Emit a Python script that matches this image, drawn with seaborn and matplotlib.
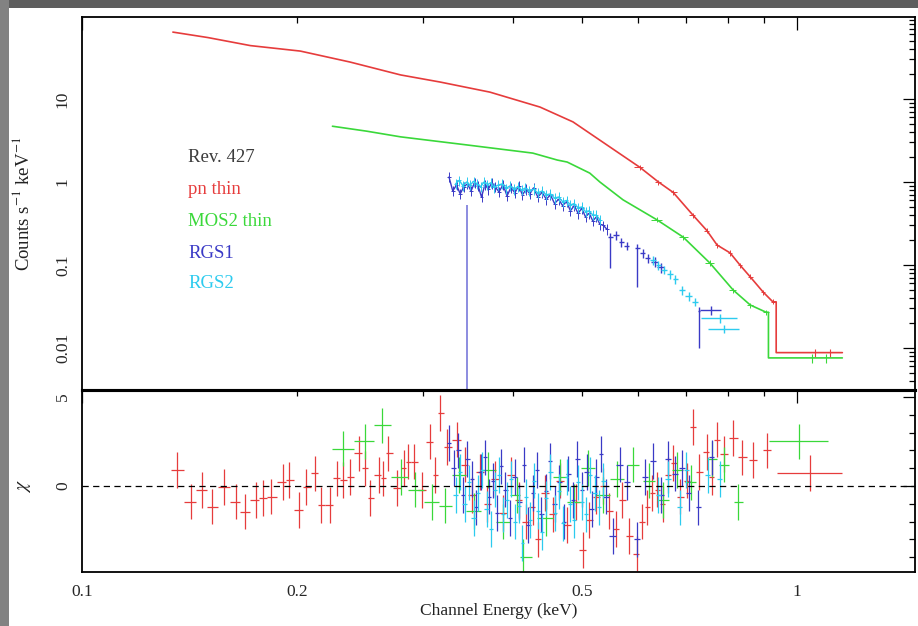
import numpy as np
import matplotlib
matplotlib.use("Agg")
import matplotlib.pyplot as plt
import seaborn as sns
from matplotlib.patches import Rectangle
from matplotlib.ticker import FixedLocator, LogLocator, FuncFormatter, NullFormatter, MultipleLocator

# ---------------- spectra (counts s^-1 keV^-1) ----------------
# EPIC pn, thin filter
pn_e = [0.134, 0.150, 0.172, 0.202, 0.237, 0.279, 0.317, 0.372, 0.437, 0.486, 0.542,
        0.603, 0.640, 0.671, 0.715, 0.748, 0.773, 0.806, 0.832, 0.860, 0.897, 0.925]
pn_c = [64, 55, 44, 37.8, 27.9, 19.5, 16.0, 12.1, 8.0, 5.3, 2.8,
        1.5, 1.0, 0.75, 0.40, 0.26, 0.174, 0.14, 0.10, 0.072, 0.047, 0.036]
pn_last = (0.935, 1.157, 0.0088)          # final wide bin: low edge, high edge, rate

# EPIC MOS2, thin filter
mos_e = [0.224, 0.250, 0.279, 0.345, 0.427, 0.462, 0.477, 0.513, 0.530, 0.571,
         0.637, 0.693, 0.755, 0.814, 0.860, 0.905]
mos_c = [4.7, 4.1, 3.5, 2.8, 2.23, 1.84, 1.74, 1.28, 1.0, 0.61,
         0.35, 0.217, 0.106, 0.050, 0.033, 0.027]
mos_last = (0.912, 1.157, 0.0076)

# RGS1, densely binned part
rgs1_e = [0.326, 0.330, 0.334, 0.338, 0.342, 0.346, 0.350, 0.354, 0.358, 0.362,
          0.366, 0.370, 0.374, 0.378, 0.383, 0.388, 0.393, 0.398, 0.403, 0.408,
          0.413, 0.418, 0.423, 0.428, 0.434, 0.440, 0.446, 0.452, 0.458, 0.464,
          0.470, 0.476, 0.482, 0.488, 0.494, 0.500, 0.506, 0.512, 0.518, 0.524,
          0.530, 0.536, 0.542]
rgs1_c = [1.15, 0.78, 0.92, 0.72, 0.88, 0.95, 0.78, 0.98, 0.90, 0.66,
          0.93, 0.82, 0.97, 0.88, 0.76, 0.93, 0.68, 0.86, 0.74, 0.90,
          0.70, 0.82, 0.72, 0.85, 0.66, 0.75, 0.62, 0.70, 0.55, 0.62,
          0.52, 0.58, 0.45, 0.52, 0.42, 0.48, 0.38, 0.42, 0.34, 0.38,
          0.31, 0.30, 0.27]
# RGS1, grouped bins at higher energy
rgs1_sp_e = [0.548, 0.558, 0.568, 0.578, 0.598, 0.608, 0.618, 0.632, 0.645, 0.729, 0.757]
rgs1_sp_c = [0.22, 0.23, 0.19, 0.17, 0.16, 0.14, 0.12, 0.11, 0.095, 0.028, 0.029]
rgs1_sp_lo = [0.092, 0.20, 0.165, 0.15, 0.054, 0.12, 0.105, 0.095, 0.08, 0.010, 0.025]
rgs1_sp_hw = [0.004, 0.005, 0.005, 0.005, 0.005, 0.005, 0.005, 0.007, 0.007, 0.003, 0.025]
# RGS1 bin with an unconstrained lower bound
rgs1_gap = (0.3456, 0.53)

# RGS2, densely binned part
rgs2_e = [0.333, 0.337, 0.341, 0.345, 0.349, 0.353, 0.357, 0.361, 0.365, 0.369,
          0.373, 0.377, 0.382, 0.387, 0.392, 0.397, 0.402, 0.407, 0.412, 0.417,
          0.422, 0.428, 0.434, 0.440, 0.446, 0.452, 0.458, 0.464, 0.470, 0.476,
          0.482, 0.488, 0.494, 0.500, 0.506, 0.512, 0.518, 0.524, 0.530]
rgs2_c = [0.95, 1.05, 0.90, 1.00, 0.92, 1.02, 0.95, 0.88, 1.00, 0.93,
          0.98, 0.86, 0.92, 0.95, 0.84, 0.90, 0.82, 0.88, 0.80, 0.85,
          0.78, 0.82, 0.74, 0.78, 0.70, 0.72, 0.64, 0.66, 0.58, 0.60,
          0.53, 0.55, 0.49, 0.50, 0.44, 0.45, 0.40, 0.40, 0.35]
rgs2_sp_e = [0.628, 0.640, 0.652, 0.664, 0.676, 0.690, 0.705, 0.720, 0.780, 0.790]
rgs2_sp_c = [0.115, 0.10, 0.088, 0.078, 0.068, 0.050, 0.042, 0.036, 0.023, 0.017]
rgs2_sp_hw = [0.006, 0.006, 0.006, 0.006, 0.006, 0.007, 0.008, 0.008, 0.045, 0.040]

# ---------------- residuals (chi) ----------------
res_pn_e = [0.136, 0.142, 0.147, 0.152, 0.158, 0.164, 0.169, 0.175, 0.179, 0.184,
            0.191, 0.195, 0.201, 0.206, 0.212, 0.216, 0.222, 0.227, 0.232, 0.237,
            0.244, 0.249, 0.253, 0.260, 0.264, 0.268, 0.276, 0.282, 0.286, 0.291,
            0.299, 0.307, 0.312, 0.317, 0.324, 0.335, 0.343, 0.351, 0.360, 0.369,
            0.378, 0.388, 0.398, 0.408, 0.418, 0.427, 0.434, 0.444, 0.455, 0.466,
            0.477, 0.490, 0.502, 0.512, 0.524, 0.535, 0.546, 0.558, 0.570, 0.583,
            0.597, 0.607, 0.617, 0.627, 0.637, 0.649, 0.660, 0.671, 0.686, 0.702,
            0.715, 0.730, 0.748, 0.760, 0.773, 0.790, 0.814, 0.838, 0.868, 0.908]
res_pn_x = [0.9, -0.88, -0.22, -1.16, -0.04, -0.88, -1.44, -0.79, -0.69, -0.60,
            0.24, 0.34, -1.35, -0.04, 0.71, -1.07, -1.07, 0.43, 0.34, 0.52,
            1.83, 0.99, -0.69, 0.62, 0.43, 1.83, -0.13, 1.00, 1.37, 1.37,
            -0.22, 2.49, 0.62, 4.1, 2.2, 2.6, 1.2, -0.5, 0.8, -1.0,
            0.4, -1.5, 0.6, -0.8, -2.0, -1.2, -3.0, -0.4, -1.6, 0.3,
            -2.2, -0.9, -3.6, -1.9, -0.6, 0.0, -1.4, -2.4, -0.8, -2.8,
            -3.8, -2.0, -1.2, -0.4, -0.2, -1.0, 0.6, 1.3, -0.6, 0.3,
            3.3, 0.8, 1.9, 0.5, 2.6, 1.8, 2.7, 1.6, 1.45, 2.0]
res_pn_last = (0.938, 1.157, 0.73)

res_mos_e = [0.232, 0.249, 0.263, 0.279, 0.292, 0.309, 0.322, 0.337, 0.353, 0.370,
             0.388, 0.406, 0.414, 0.445, 0.466, 0.488, 0.510, 0.535, 0.560, 0.590,
             0.620, 0.650, 0.680, 0.710, 0.760, 0.790, 0.827]
res_mos_x = [2.1, 2.5, 3.4, 0.5, -0.2, -0.9, -1.1, 0.6, -1.4, 0.9,
             -2.0, -0.5, -4.0, -1.8, 0.5, -0.9, 1.0, -0.5, 0.4, 1.2,
             0.3, -0.8, 0.9, 0.2, 1.5, 1.2, -0.9]
res_mos_last = (0.915, 1.106, 2.5)

res_r1_e = [0.326, 0.331, 0.336, 0.341, 0.346, 0.351, 0.356, 0.361, 0.366, 0.371,
            0.376, 0.381, 0.386, 0.391, 0.397, 0.403, 0.409, 0.415, 0.421, 0.427,
            0.433, 0.439, 0.445, 0.451, 0.458, 0.465, 0.472, 0.479, 0.486, 0.493,
            0.500, 0.508, 0.516, 0.524, 0.532, 0.540, 0.552, 0.565, 0.578, 0.597,
            0.612, 0.628, 0.645, 0.660, 0.675, 0.690, 0.705, 0.728, 0.760]
res_r1_x = [2.4, 1.0, 2.0, -0.5, 1.5, 0.4, -1.2, 0.8, 1.6, -0.6,
            0.3, -1.5, 1.1, -0.2, -1.8, 0.5, -0.9, 1.2, -2.2, -0.4,
            0.9, -1.6, -0.3, 1.4, -1.0, 0.2, -2.0, 0.7, -0.8, 1.5,
            -0.2, 0.8, -1.3, 0.5, 1.8, -0.6, -2.8, 1.2, 0.2, -3.0,
            0.5, 1.4, -0.5, 1.5, 0.7, 1.0, -0.4, -1.2, 1.6]

res_r2_e = [0.333, 0.338, 0.343, 0.348, 0.353, 0.358, 0.363, 0.368, 0.373, 0.378,
            0.383, 0.388, 0.393, 0.398, 0.403, 0.408, 0.413, 0.418, 0.423, 0.428,
            0.434, 0.440, 0.446, 0.452, 0.458, 0.464, 0.470, 0.476, 0.482, 0.488,
            0.494, 0.500, 0.507, 0.514, 0.521, 0.528, 0.535, 0.640, 0.660, 0.685,
            0.700, 0.750, 0.780]
res_r2_x = [-0.5, 0.8, -1.0, 0.2, -1.8, -0.4, 0.9, -1.3, -2.4, -0.2,
            0.6, -1.6, -0.8, 0.4, -2.0, -1.1, -3.2, -0.6, -1.9, 0.3,
            -1.4, -2.6, -0.7, 0.8, -1.5, -0.3, -2.1, 0.5, -1.0, -1.9,
            0.2, -0.9, -1.6, 0.6, -0.4, -1.2, 0.3, -0.5, 0.4, -1.2,
            0.9, 0.6, 0.4]

legend_labels = ["Rev. 427", "pn thin", "MOS2 thin", "RGS1", "RGS2"]
x_tick_labels = {0.1: "0.1", 0.2: "0.2", 0.5: "0.5", 1.0: "1"}

RED, GREEN, BLUE, CYAN = "#e63c3c", "#3ad83a", "#3a3ac6", "#2ccbef"


def half_widths(e, cap=None):
    """Half widths of contiguous bins centred on e (log spacing)."""
    e = np.asarray(e, float)
    mids = np.sqrt(e[1:] * e[:-1])
    lo = np.r_[e[0] ** 2 / mids[0], mids]
    hi = np.r_[mids, e[-1] ** 2 / mids[-1]]
    dl, dh = e - lo, hi - e
    if cap is not None:
        dl, dh = np.minimum(dl, cap), np.minimum(dh, cap)
    return np.vstack([dl, dh])


sns.set_theme(style="white")
plt.rcParams["font.family"] = ["Liberation Serif", "DejaVu Serif"]
plt.rcParams["mathtext.fontset"] = "stix"

W, H = 918, 626
fig = plt.figure(figsize=(W / 100, H / 100), dpi=100)
fig.patch.set_facecolor("white")
# dark outer frame along the top and left edges
fig.patches.append(Rectangle((0, 1 - 8 / H), 1, 8 / H, transform=fig.transFigure,
                             facecolor="#5e5e5e", edgecolor="none", zorder=-5))
fig.patches.append(Rectangle((0, 0), 9 / W, 1, transform=fig.transFigure,
                             facecolor="#828282", edgecolor="none", zorder=-5))

x0, x1 = 82 / W, 833 / W
ax = fig.add_axes([x0, 1 - 390 / H, x1, 373 / H])
axr = fig.add_axes([x0, 1 - 572 / H, x1, 182 / H], sharex=ax)

for a in (ax, axr):
    a.set_facecolor("none")
    a.set_xscale("log")
ax.set_yscale("log")

# ---------- upper panel ----------
def stepped_tail(e, c, last):
    lo, hi, val = last
    xs = list(e) + [lo, lo, hi]
    ys = list(c) + [c[-1], val, val]
    return xs, ys

for e, c, last, col in ((pn_e, pn_c, pn_last, RED), (mos_e, mos_c, mos_last, GREEN)):
    xs, ys = stepped_tail(e, c, last)
    sns.lineplot(x=xs, y=ys, ax=ax, color=col, lw=1.2, sort=False, estimator=None)
    e_arr, c_arr = np.asarray(e), np.asarray(c)
    sel = e_arr > 0.6
    hw = half_widths(e)[:, sel]
    ax.errorbar(e_arr[sel], c_arr[sel], xerr=hw * 0.35, yerr=c_arr[sel] * 0.07,
                fmt="none", ecolor=col, elinewidth=0.7, capsize=0)
    lo, hi, val = last
    ax.errorbar([np.sqrt(lo * hi) * 1.02, np.sqrt(lo * hi) * 1.07], [val, val],
                yerr=[val * 0.12, val * 0.12], fmt="none", ecolor=col, elinewidth=0.8)

# RGS dense spectra
for e, c, col in ((rgs1_e, rgs1_c, BLUE), (rgs2_e, rgs2_c, CYAN)):
    sns.lineplot(x=e, y=c, ax=ax, color=col, lw=1.0, sort=False, estimator=None)
    c_arr = np.asarray(c)
    ax.errorbar(e, c, xerr=half_widths(e), yerr=c_arr * 0.14, fmt="none",
                ecolor=col, elinewidth=0.7, capsize=0)

# RGS grouped bins
r1c = np.asarray(rgs1_sp_c)
ax.errorbar(rgs1_sp_e, rgs1_sp_c, xerr=rgs1_sp_hw,
            yerr=[r1c - np.asarray(rgs1_sp_lo), r1c * 0.12],
            fmt="none", ecolor=BLUE, elinewidth=1.0, capsize=0)
r2c = np.asarray(rgs2_sp_c)
ax.errorbar(rgs2_sp_e, rgs2_sp_c, xerr=rgs2_sp_hw, yerr=r2c * 0.12,
            fmt="none", ecolor=CYAN, elinewidth=1.0, capsize=0)
ax.errorbar([rgs1_gap[0]], [rgs1_gap[1]], yerr=[[rgs1_gap[1] - 1e-5], [0]],
            fmt="none", ecolor="#8c8ce0", elinewidth=1.4, capsize=0)

ax.set_xlim(0.1, 1.462)
ax.set_ylim(0.00312, 97.3)

# legend as coloured text
leg_cols = ["#3c3c3c", RED, GREEN, BLUE, CYAN]
leg_y = [157, 190, 221, 253, 284]
for lab, col, yy in zip(legend_labels, leg_cols, leg_y):
    ax.text((188 - 82) / 833, (390 - yy) / 373, lab, transform=ax.transAxes,
            color=col, fontsize=13.5, va="center", ha="left")

# ---------- residual panel ----------
def residuals(e, x, col, cap):
    axr.errorbar(e, x, xerr=half_widths(e, cap), yerr=1.0, fmt="none",
                 ecolor=col, elinewidth=0.9, capsize=0)

def wide_residual(last, col):
    lo, hi, val = last
    c = np.sqrt(lo * hi)
    axr.errorbar([c], [val], xerr=[[c - lo], [hi - c]], yerr=1.0, fmt="none",
                 ecolor=col, elinewidth=0.9, capsize=0)

residuals(res_pn_e, res_pn_x, RED, 0.012)
wide_residual(res_pn_last, RED)
residuals(res_mos_e, res_mos_x, GREEN, 0.012)
wide_residual(res_mos_last, GREEN)
residuals(res_r1_e, res_r1_x, BLUE, 0.006)
residuals(res_r2_e, res_r2_x, CYAN, 0.006)
axr.axhline(0, color="black", lw=0.9, ls=(0, (5, 3.5)), zorder=5)
axr.set_ylim(-4.83, 5.39)

# ---------- axes styling ----------
for a in (ax, axr):
    for s in a.spines.values():
        s.set_color("black")
        s.set_linewidth(1.3)
    a.tick_params(which="both", direction="in", top=True, right=True,
                  color="black", width=0.9)
    a.tick_params(which="major", length=9)
    a.tick_params(which="minor", length=4.5)
ax.spines["bottom"].set_linewidth(2.2)
axr.spines["top"].set_linewidth(2.2)

ax.xaxis.set_major_locator(FixedLocator([0.1, 1.0]))
ax.xaxis.set_minor_locator(LogLocator(base=10, subs=np.arange(2, 10)))
ax.tick_params(axis="x", which="both", labelbottom=False)

fmt = FuncFormatter(lambda v, p: next((t for k, t in x_tick_labels.items()
                                       if abs(v - k) < 1e-6), ""))
axr.xaxis.set_major_formatter(fmt)
axr.xaxis.set_minor_formatter(fmt)
axr.tick_params(axis="x", which="both", labelsize=12.5, pad=9)

ax.yaxis.set_major_locator(FixedLocator([0.01, 0.1, 1, 10]))
ax.yaxis.set_minor_locator(LogLocator(base=10, subs=np.arange(2, 10)))
ax.yaxis.set_minor_formatter(NullFormatter())
ax.yaxis.set_major_formatter(FuncFormatter(lambda v, p: {0.01: "0.01", 0.1: "0.1",
                                                         1: "1", 10: "10"}.get(v, "")))
axr.yaxis.set_major_locator(FixedLocator([0, 5]))
axr.yaxis.set_minor_locator(MultipleLocator(1))
axr.yaxis.set_major_formatter(FuncFormatter(lambda v, p: f"{v:g}"))
for a in (ax, axr):
    a.tick_params(axis="y", which="major", labelsize=12.5, pad=8)
    for t in a.get_yticklabels():
        t.set_rotation(90)
        t.set_va("center")

ax.set_ylabel(r"Counts s$^{-1}$ keV$^{-1}$", fontsize=13.5, color="#222222")
ax.yaxis.set_label_coords((33 - 82) / 833, 0.5)
axr.set_ylabel(r"$\chi$", fontsize=14, color="#222222")
axr.yaxis.set_label_coords((33 - 82) / 833, (572 - 486) / 182)
axr.set_xlabel("Channel Energy (keV)", fontsize=12.5, color="#222222")
axr.xaxis.set_label_coords(0.5, (572 - 603) / 182)
ax.set_xlabel("")

fig.savefig("out.png", dpi=100)
